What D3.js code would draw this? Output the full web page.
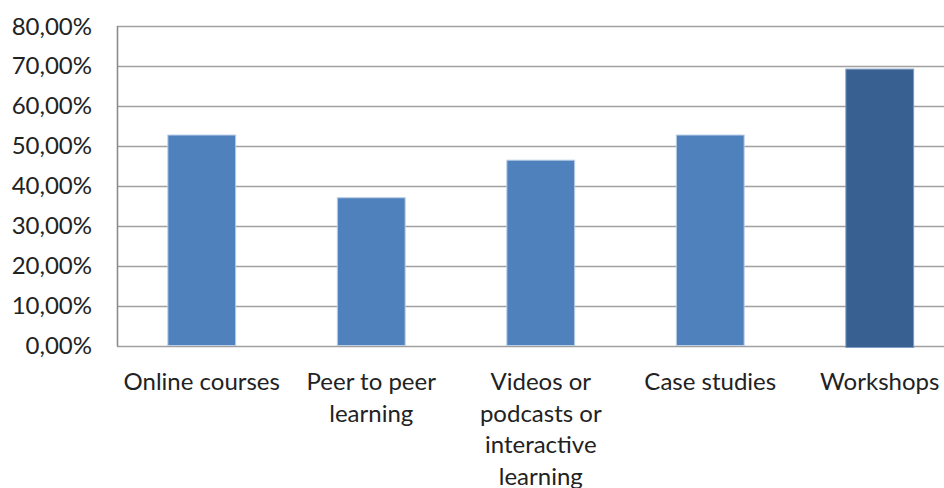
<!DOCTYPE html>
<html>
<head>
<meta charset="utf-8">
<script src="https://cdn.jsdelivr.net/npm/d3@7/dist/d3.min.js"></script>
<style>
  html, body { margin: 0; padding: 0; background: #fff; overflow: hidden; }
  svg { display: block; }
  text { font-family: Lato, "Open Sans", sans-serif; fill: #222; }
</style>
</head>
<body>
<svg id="chart" width="944" height="488"></svg>
<script>
// ---- data ----
const categories = ["Online courses", "Peer to peer learning", "Videos or podcasts or interactive learning", "Case studies", "Workshops"];
const categoryLines = [
  ["Online courses"],
  ["Peer to peer", "learning"],
  ["Videos or", "podcasts or", "interactive", "learning"],
  ["Case studies"],
  ["Workshops"]
];
const values = [52.7, 37.0, 46.4, 52.7, 69.2];
const yTicks = [0, 10, 20, 30, 40, 50, 60, 70, 80];
const barColors = ["#4f81bd", "#4f81bd", "#4f81bd", "#4f81bd", "#386192"];

// ---- layout ----
const svg = d3.select("#chart");
const mLeft = 117, mRight = 964.5, mTop = 26, mBottom = 345.5;

const x = d3.scaleBand().domain(categories).range([mLeft, mRight]).paddingInner(0.6).paddingOuter(0.3);
const y = d3.scaleLinear().domain([0, 80]).range([mBottom, mTop]);

// gridlines
svg.append("g").selectAll("line").data(yTicks).join("line")
  .attr("x1", mLeft).attr("x2", 944)
  .attr("y1", d => Math.round(y(d)) + 0.5).attr("y2", d => Math.round(y(d)) + 0.5)
  .attr("stroke", "#a0a0a0").attr("stroke-width", 1.6);

// left axis line
svg.append("line").attr("x1", mLeft + 0.5).attr("x2", mLeft + 0.5)
  .attr("y1", mTop).attr("y2", mBottom + 1)
  .attr("stroke", "#8c8c8c").attr("stroke-width", 1.6);

// bars
svg.append("g").selectAll("rect").data(values).join("rect")
  .attr("x", (d, i) => x(categories[i]))
  .attr("width", x.bandwidth())
  .attr("y", d => y(d))
  .attr("height", d => y(0) - y(d) + (d > 60 ? 2 : 0))
  .attr("fill", (d, i) => barColors[i])
  .attr("stroke", (d, i) => i === 4 ? "#7e9cc4" : "#b9cde5")
  .attr("stroke-width", 1);

// y labels
svg.append("g").selectAll("text").data(yTicks).join("text")
  .attr("x", 92).attr("y", d => y(d) + 8.5)
  .attr("text-anchor", "end")
  .style("font-size", "24px")
  .text(d => d.toFixed(2).replace(".", ",") + "%");

// x labels
const xl = svg.append("g").selectAll("text").data(categories).join("text")
  .attr("text-anchor", "middle")
  .style("font-size", "24px")
  .attr("transform", (d, i) => `translate(${x(d) + x.bandwidth() / 2},390)`);
xl.selectAll("tspan").data((d, i) => categoryLines[i]).join("tspan")
  .attr("x", 0).attr("y", (d, j) => j * 31.5)
  .text(d => d);
</script>
</body>
</html>
